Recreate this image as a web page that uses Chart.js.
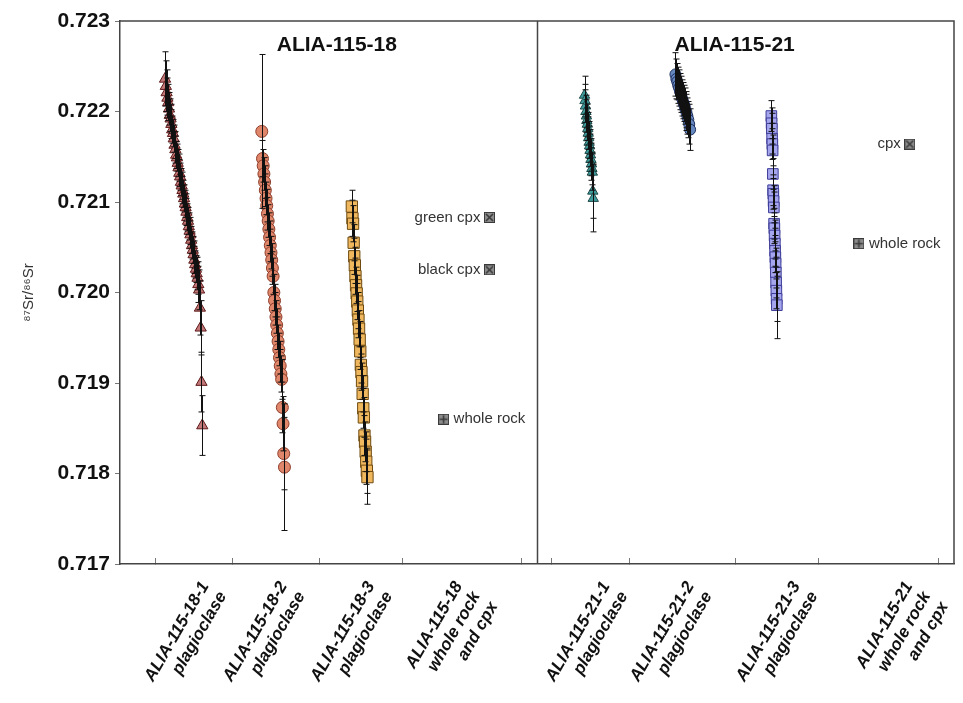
<!DOCTYPE html>
<html><head><meta charset="utf-8">
<script src="https://cdn.jsdelivr.net/npm/chart.js@4.4.0/dist/chart.umd.min.js"></script>
<style>html,body{margin:0;padding:0;background:#fff}</style>
</head><body>
<canvas id="c" width="963" height="703"></canvas>
<script>
// ---- categories / labels ----
const categories = [
  ['ALIA-115-18-1', 'plagioclase'],
  ['ALIA-115-18-2', 'plagioclase'],
  ['ALIA-115-18-3', 'plagioclase'],
  ['ALIA-115-18', 'whole rock', 'and cpx'],
  ['ALIA-115-21-1', 'plagioclase'],
  ['ALIA-115-21-2', 'plagioclase'],
  ['ALIA-115-21-3', 'plagioclase'],
  ['ALIA-115-21', 'whole rock', 'and cpx']
];
const panelTitles = ['ALIA-115-18', 'ALIA-115-21'];
const yTickValues = [0.717, 0.718, 0.719, 0.720, 0.721, 0.722, 0.723];

// ---- series values (87Sr/86Sr) and 2-sigma errors (x1e-5) ----
const s18_1 = [0.72236,0.72228,0.72221,0.72215,0.72210,0.72203,0.72196,0.72192,0.72186,0.72180,0.72176,0.72170,0.72163,0.72158,0.72152,0.72149,0.72143,0.72138,0.72132,0.72128,0.72122,0.72118,0.72113,0.72109,0.72104,0.72098,0.72094,0.72089,0.72083,0.72079,0.72073,0.72068,0.72064,0.72058,0.72052,0.72047,0.72042,0.72036,0.72031,0.72026,0.72021,0.72016,0.72009,0.72003,0.71983,0.71961,0.71901,0.71853];
const e18_1 = [30,28,25,22,20,18,18,16,16,15,15,15,15,15,15,15,15,15,15,15,15,15,15,15,15,15,15,15,15,15,15,15,15,15,15,15,15,15,15,15,18,18,20,22,30,30,33,33];

const s18_2 = [0.72178,0.72148,0.72140,0.72131,0.72122,0.72113,0.72104,0.72096,0.72087,0.72079,0.72070,0.72061,0.72052,0.72044,0.72036,0.72027,0.72018,0.72000,0.71991,0.71982,0.71973,0.71964,0.71955,0.71946,0.71937,0.71928,0.71919,0.71910,0.71904,0.71873,0.71855,0.71822,0.71807];
const e18_2 = [85,20,18,18,18,18,18,18,18,18,18,18,18,18,18,18,20,20,18,18,18,18,18,18,18,18,18,20,22,28,30,40,70];

const s18_3 = [0.72095,0.72082,0.72076,0.72055,0.72040,0.72030,0.72018,0.72008,0.71999,0.71990,0.71980,0.71970,0.71960,0.71948,0.71935,0.71920,0.71912,0.71902,0.71888,0.71872,0.71862,0.71842,0.71835,0.71824,0.71813,0.71803,0.71796];
const e18_3 = [18,20,20,20,20,20,20,20,20,20,20,20,20,20,20,20,20,20,20,22,22,22,22,22,25,25,30];

const s18_wr = [0.72083, 0.72025, 0.71860];
const n18_wr = ['green cpx', 'black cpx', 'whole rock'];
const k18_wr = ['cpx', 'cpx', 'wr'];

const s21_1 = [0.72218,0.72212,0.72206,0.72200,0.72195,0.72190,0.72186,0.72181,0.72176,0.72171,0.72166,0.72162,0.72157,0.72152,0.72147,0.72142,0.72137,0.72133,0.72112,0.72104];
const e21_1 = [21,18,18,18,18,18,18,18,18,18,18,18,18,18,18,18,18,20,30,37];

const s21_2 = [0.72241,0.72236,0.72233,0.72229,0.72226,0.72222,0.72219,0.72215,0.72212,0.72209,0.72206,0.72202,0.72199,0.72195,0.72191,0.72186,0.72180];
const e21_2 = [24,22,20,20,20,20,20,20,20,20,20,20,20,20,20,22,23];

const s21_3 = [0.72195,0.72187,0.72181,0.72170,0.72164,0.72157,0.72131,0.72113,0.72109,0.72101,0.72094,0.72076,0.72071,0.72063,0.72054,0.72046,0.72039,0.72032,0.72022,0.72011,0.72002,0.71993,0.71986];
const e21_3 = [17,17,17,17,17,17,17,17,17,17,17,17,17,17,17,17,17,17,17,17,20,25,37];

const s21_wr = [0.72164, 0.72054];
const n21_wr = ['cpx', 'whole rock'];
const k21_wr = ['cpx', 'wr'];

// ---- layout of the index axis (x positions, 0..100 across both panels) ----
const X_MIN = 0, X_MAX = 100, PANEL_SPLIT = 50;
const tickMarks = [4.2, 13.5, 23.95, 33.9, 48.1, 51.7, 61.1, 73.8, 83.7, 98.2];
const labelAt = [10.2, 19.6, 30.1, 40.6, 58.3, 68.4, 81.1, 94.6];
const titleAt = [26, 73.7];
const xLayout = {
  s18_1: [5.4, 0.095], s18_2: [17.0, 0.085], s18_3: [27.8, 0.072],
  s21_1: [55.7, 0.055], s21_2: [66.6, 0.11], s21_3: [78.1, 0.03]
};
const xWR18 = [44.3, 44.3, 38.8];
const xWR21 = [94.7, 88.6];

function series(vals, errs, lay) {
  return vals.map((v, i) => ({ x: lay[0] + i * lay[1], y: v, e: errs[i] * 1e-5 }));
}

function markerImg(kind) {
  const c = document.createElement('canvas');
  c.width = 11; c.height = 11;
  const g = c.getContext('2d');
  g.fillStyle = '#8c8c8c'; g.fillRect(0, 0, 11, 11);
  g.strokeStyle = '#3a3a3a'; g.lineWidth = 1;
  g.strokeRect(0.5, 0.5, 10, 10);
  g.lineWidth = 1.6; g.beginPath();
  if (kind === 'cpx') { g.moveTo(2, 2); g.lineTo(9, 9); g.moveTo(9, 2); g.lineTo(2, 9); }
  else { g.moveTo(5.5, 1.5); g.lineTo(5.5, 9.5); g.moveTo(1.5, 5.5); g.lineTo(9.5, 5.5); }
  g.stroke();
  return c;
}
const imgCpx = markerImg('cpx'), imgWr = markerImg('wr');

function ds(data, style, bg, border, radius) {
  return { data, pointStyle: style, backgroundColor: bg, borderColor: border,
    pointRadius: radius, pointBorderWidth: 1, showLine: false, pointHoverRadius: radius };
}

const datasets = [
  ds(series(s18_1, e18_1, xLayout.s18_1), 'triangle', '#c27878', '#5e1818', 6.5),
  ds(series(s18_2, e18_2, xLayout.s18_2), 'circle', '#e0866a', '#8e3e2c', 6),
  ds(series(s18_3, e18_3, xLayout.s18_3), 'rect', '#f0b85e', '#6e4a10', 8),
  { data: s18_wr.map((v, i) => ({ x: xWR18[i], y: v, e: 0, name: n18_wr[i], side: i < 2 ? 'left' : 'right' })),
    pointStyle: k18_wr.map(k => k === 'cpx' ? imgCpx : imgWr), showLine: false, pointRadius: 6 },
  ds(series(s21_1, e21_1, xLayout.s21_1), 'triangle', '#3f9c9c', '#1c4848', 6),
  ds(series(s21_2, e21_2, xLayout.s21_2), 'circle', '#6688c0', '#1c2c5c', 5.5),
  ds(series(s21_3, e21_3, xLayout.s21_3), 'rect', '#a6a6ee', '#3c3c98', 7.5),
  { data: s21_wr.map((v, i) => ({ x: xWR21[i], y: v, e: 0, name: n21_wr[i], side: i < 1 ? 'left' : 'right' })),
    pointStyle: k21_wr.map(k => k === 'cpx' ? imgCpx : imgWr), showLine: false, pointRadius: 6 }
];

const frame = {
  id: 'frame',
  beforeDatasetsDraw(chart) {
    const { ctx, chartArea: a, scales: { x } } = chart;
    ctx.save();
    ctx.strokeStyle = '#444'; ctx.lineWidth = 1.5;
    ctx.beginPath();
    ctx.moveTo(a.left, a.top); ctx.lineTo(a.right, a.top); ctx.lineTo(a.right, a.bottom);
    const sx = Math.round(x.getPixelForValue(PANEL_SPLIT)) + 0.5;
    ctx.moveTo(sx, a.top); ctx.lineTo(sx, a.bottom);
    ctx.stroke();
    ctx.fillStyle = '#111';
    ctx.font = 'bold 21px "Liberation Sans", Arial, sans-serif';
    ctx.textAlign = 'center'; ctx.textBaseline = 'middle';
    panelTitles.forEach((t, i) => ctx.fillText(t, x.getPixelForValue(titleAt[i]), a.top + 24));
    ctx.restore();
  },
  afterDatasetsDraw(chart) {
    const { ctx, scales: { x, y } } = chart;
    ctx.save();
    ctx.strokeStyle = '#111'; ctx.lineWidth = 1;
    chart.data.datasets.forEach(d => d.data.forEach(p => {
      if (!p.e) return;
      const px = Math.round(x.getPixelForValue(p.x)) + 0.5;
      const t = y.getPixelForValue(p.y + p.e), b = y.getPixelForValue(p.y - p.e);
      ctx.beginPath();
      ctx.moveTo(px, t); ctx.lineTo(px, b);
      ctx.moveTo(px - 3, t); ctx.lineTo(px + 3, t);
      ctx.moveTo(px - 3, b); ctx.lineTo(px + 3, b);
      ctx.stroke();
    }));
    ctx.fillStyle = '#333';
    ctx.font = '15px "Liberation Sans", Arial, sans-serif';
    ctx.textBaseline = 'middle';
    chart.data.datasets.forEach(d => d.data.forEach(p => {
      if (!p.name) return;
      const px = x.getPixelForValue(p.x), py = y.getPixelForValue(p.y);
      if (p.side === 'left') { ctx.textAlign = 'right'; ctx.fillText(p.name, px - 9, py); }
      else { ctx.textAlign = 'left'; ctx.fillText(p.name, px + 10, py); }
    }));
    ctx.restore();
  }
};

const allXTicks = tickMarks.concat(labelAt).sort((a, b) => a - b);

new Chart(document.getElementById('c'), {
  type: 'scatter',
  data: { datasets },
  plugins: [frame],
  options: {
    responsive: false,
    animation: false,
    layout: { padding: { top: 21, right: 8, left: 0, bottom: 0 } },
    plugins: { legend: { display: false }, tooltip: { enabled: false } },
    scales: {
      x: {
        type: 'linear', min: X_MIN, max: X_MAX,
        afterBuildTicks: s => { s.ticks = allXTicks.map(v => ({ value: v })); },
        afterFit: s => { s.height = 139; s.paddingLeft = 0; s.paddingRight = 0; },
        border: { color: '#444', width: 1.5 },
        grid: {
          drawOnChartArea: false, tickLength: -6,
          color: c => (c.tick && labelAt.includes(c.tick.value)) ? 'rgba(0,0,0,0)' : '#777'
        },
        ticks: {
          autoSkip: false, minRotation: 60, maxRotation: 60, padding: 20,
          color: '#111',
          font: { family: '"Liberation Sans", Arial, sans-serif', size: 17, weight: 'bold', style: 'italic' },
          callback: v => { const i = labelAt.indexOf(v); return i >= 0 ? categories[i] : ''; }
        }
      },
      y: {
        min: 0.717, max: 0.723,
        afterBuildTicks: s => { s.ticks = yTickValues.map(v => ({ value: v })); },
        afterFit: s => { s.width = 120; s.paddingTop = 0; s.paddingBottom = 0; },
        border: { color: '#444', width: 1.5 },
        grid: { drawOnChartArea: false, tickLength: 5, color: '#777' },
        ticks: {
          padding: 5, color: '#111',
          font: { family: '"Liberation Sans", Arial, sans-serif', size: 21, weight: 'bold' },
          callback: v => v.toFixed(3)
        },
        title: {
          display: true, text: '⁸⁷Sr/⁸⁶Sr', color: '#333',
          font: { family: '"Liberation Sans", Arial, sans-serif', size: 15 },
          padding: { top: 20, bottom: 0 }
        }
      }
    }
  }
});
</script>
</body></html>
